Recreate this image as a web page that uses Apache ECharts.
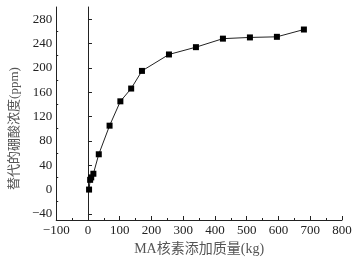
<!DOCTYPE html>
<html><head><meta charset="utf-8">
<script src="https://cdn.jsdelivr.net/npm/echarts@6/dist/echarts.min.js"></script>
<style>html,body{margin:0;padding:0;background:#fff}#c{width:357px;height:261px}</style>
</head><body><div id="c"></div>
<script>
var massKg = [3.4, 6.8, 10.2, 17, 34, 68, 102, 136, 170, 255, 340, 425, 510, 595, 680];
var boricPpm = [0, 16, 20, 26, 58, 105, 145, 166, 195, 222, 234, 248, 250, 251, 263];
var yMajorTicks = [-40, 0, 40, 80, 120, 160, 200, 240, 280];
var yMinorTicks = [-20, 20, 60, 100, 140, 180, 220, 260];
var xTitle = 'MA核素添加质量(kg)';
var yTitle = '替代的硼酸浓度(ppm)';

var font = '"Liberation Serif","Noto Sans CJK SC",serif';
var chart = echarts.init(document.getElementById('c'), null, {renderer: 'canvas'});
var baseY = {
  type: 'value', min: -50, max: 300, position: 'left',
  axisLine: {show: true, lineStyle: {color: '#222', width: 1}},
  splitLine: {show: false}
};
chart.setOption({
  animation: false,
  grid: {left: 49, right: 15, top: 7, bottom: 41, containLabel: false},
  xAxis: {
    type: 'value', min: -100, max: 800, interval: 100,
    name: xTitle, nameLocation: 'middle', nameGap: 22,
    nameTextStyle: {fontFamily: font, fontSize: 14, color: '#555'},
    axisLine: {onZero: false, lineStyle: {color: '#222', width: 1}},
    axisTick: {show: true, inside: true, length: 4, lineStyle: {color: '#222'}},
    minorTick: {show: true, splitNumber: 2, length: 2, lineStyle: {color: '#222'}},
    axisLabel: {fontFamily: font, fontSize: 13, color: '#222', margin: 4,
      formatter: function (v) { return v < 0 ? '\u2212' + (-v) : String(v); }},
    splitLine: {show: false}
  },
  yAxis: [
    Object.assign({}, baseY, {
      name: yTitle, nameLocation: 'middle', nameGap: 31, nameRotate: 90,
      nameTextStyle: {fontFamily: font, fontSize: 13, color: '#555', padding: [0, 30, 0, 0]},
      axisTick: {show: true, inside: true, length: 4, customValues: yMajorTicks, lineStyle: {color: '#222'}},
      axisLabel: {fontFamily: font, fontSize: 13, color: '#222', margin: 4, customValues: yMajorTicks,
        formatter: function (v) { return v < 0 ? '\u2212' + (-v) : String(v); }}
    }),
    Object.assign({}, baseY, {
      axisTick: {show: true, inside: true, length: 2, customValues: yMinorTicks, lineStyle: {color: '#222'}},
      axisLabel: {show: false}
    })
  ],
  series: [{
    type: 'line',
    data: massKg.map(function (x, i) { return [x, boricPpm[i]]; }),
    symbol: 'rect', symbolSize: 6,
    itemStyle: {color: '#000'},
    lineStyle: {color: '#222', width: 1}
  }]
});
</script></body></html>
